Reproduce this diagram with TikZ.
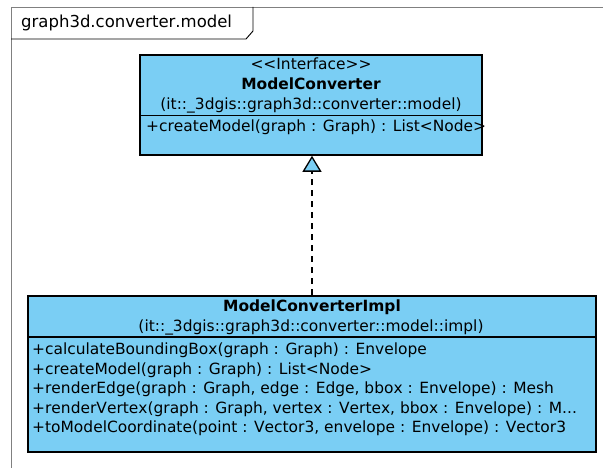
\documentclass[tikz,border=0pt]{standalone}
\usepackage{fontspec}
\setmainfont[Kerning=Off]{DejaVu Sans}
\usetikzlibrary{arrows.meta}
\definecolor{umlblue}{RGB}{122,206,244}
\definecolor{framegray}{RGB}{128,128,128}
\newcommand{\lt}{\textless\kern0pt}
\newcommand{\gt}{\kern0pt\textgreater\kern0pt}
\tikzset{
  classbox/.style={draw=black, line width=1.6pt, fill=umlblue, inner sep=0pt},
  txt/.style={inner sep=0pt, font=\fontsize{15.45}{17}\selectfont, anchor=base},
  boldtxt/.style={txt, font=\fontsize{15.45}{17}\selectfont\bfseries},
  member/.style={txt, anchor=base west},
  realize/.style={dashed, dash pattern=on 6pt off 5pt, line width=1.3pt,
    -{Triangle[length=16pt, width=19pt, fill=umlblue, line width=1.3pt]}},
  sep/.style={line width=1.6pt}
}
\begin{document}
\begin{tikzpicture}[x=1pt, y=-1pt]
\useasboundingbox (0,0) rectangle (603,468);
% package frame with name tab
\draw[framegray, line width=0.9pt] (603,7) -- (11,7) -- (11,468);
\draw[black, line width=0.9pt] (11,39) -- (246,39) -- (253,31) -- (253,7);
\node[txt, anchor=base west, font=\fontsize{16.5}{18}\selectfont] (pkg) at (21,28) {graph3d.converter.model};

% interface
\node[classbox, minimum width=342pt, minimum height=100pt] (mc) at (311,105) {};
\node[txt] (mcst) at (311,70) {\lt\lt Interface\gt\gt};
\node[boldtxt] (mcname) at (311,90) {ModelConverter};
\node[txt] (mcpkg) at (311,110) {(it::\_3dgis::graph3d::converter::model)};
\draw[sep] (mc.west |- 0,115.5) -- (mc.east |- 0,115.5);
\node[member] (mcm1) at (146,132) {+createModel(graph : Graph) : List\lt Node\gt};

% implementation
\node[classbox, minimum width=568pt, minimum height=156pt] (impl) at (312,374) {};
\node[boldtxt] (implname) at (312,311) {ModelConverterImpl};
\node[txt] (implpkg) at (311,331) {(it::\_3dgis::graph3d::converter::model::impl)};
\draw[sep] (impl.west |- 0,337) -- (impl.east |- 0,337);
\node[member] (im1) at (32,354.5) {+calculateBoundingBox(graph : Graph) : Envelope};
\node[member] (im2) at (32,374) {+createModel(graph : Graph) : List\lt Node\gt};
\node[member] (im3) at (32,393.5) {+renderEdge(graph : Graph, edge : Edge, bbox : Envelope) : Mesh};
\node[member] (im4) at (32,413) {+renderVertex(graph : Graph, vertex : Vertex, bbox : Envelope) : M...};
\node[member] (im5) at (32,432.5) {+toModelCoordinate(point : Vector3, envelope : Envelope) : Vector3};

% realization
\draw[realize] (impl.north -| 312,0) -- (mc.south -| 312,0);
\end{tikzpicture}
\end{document}
